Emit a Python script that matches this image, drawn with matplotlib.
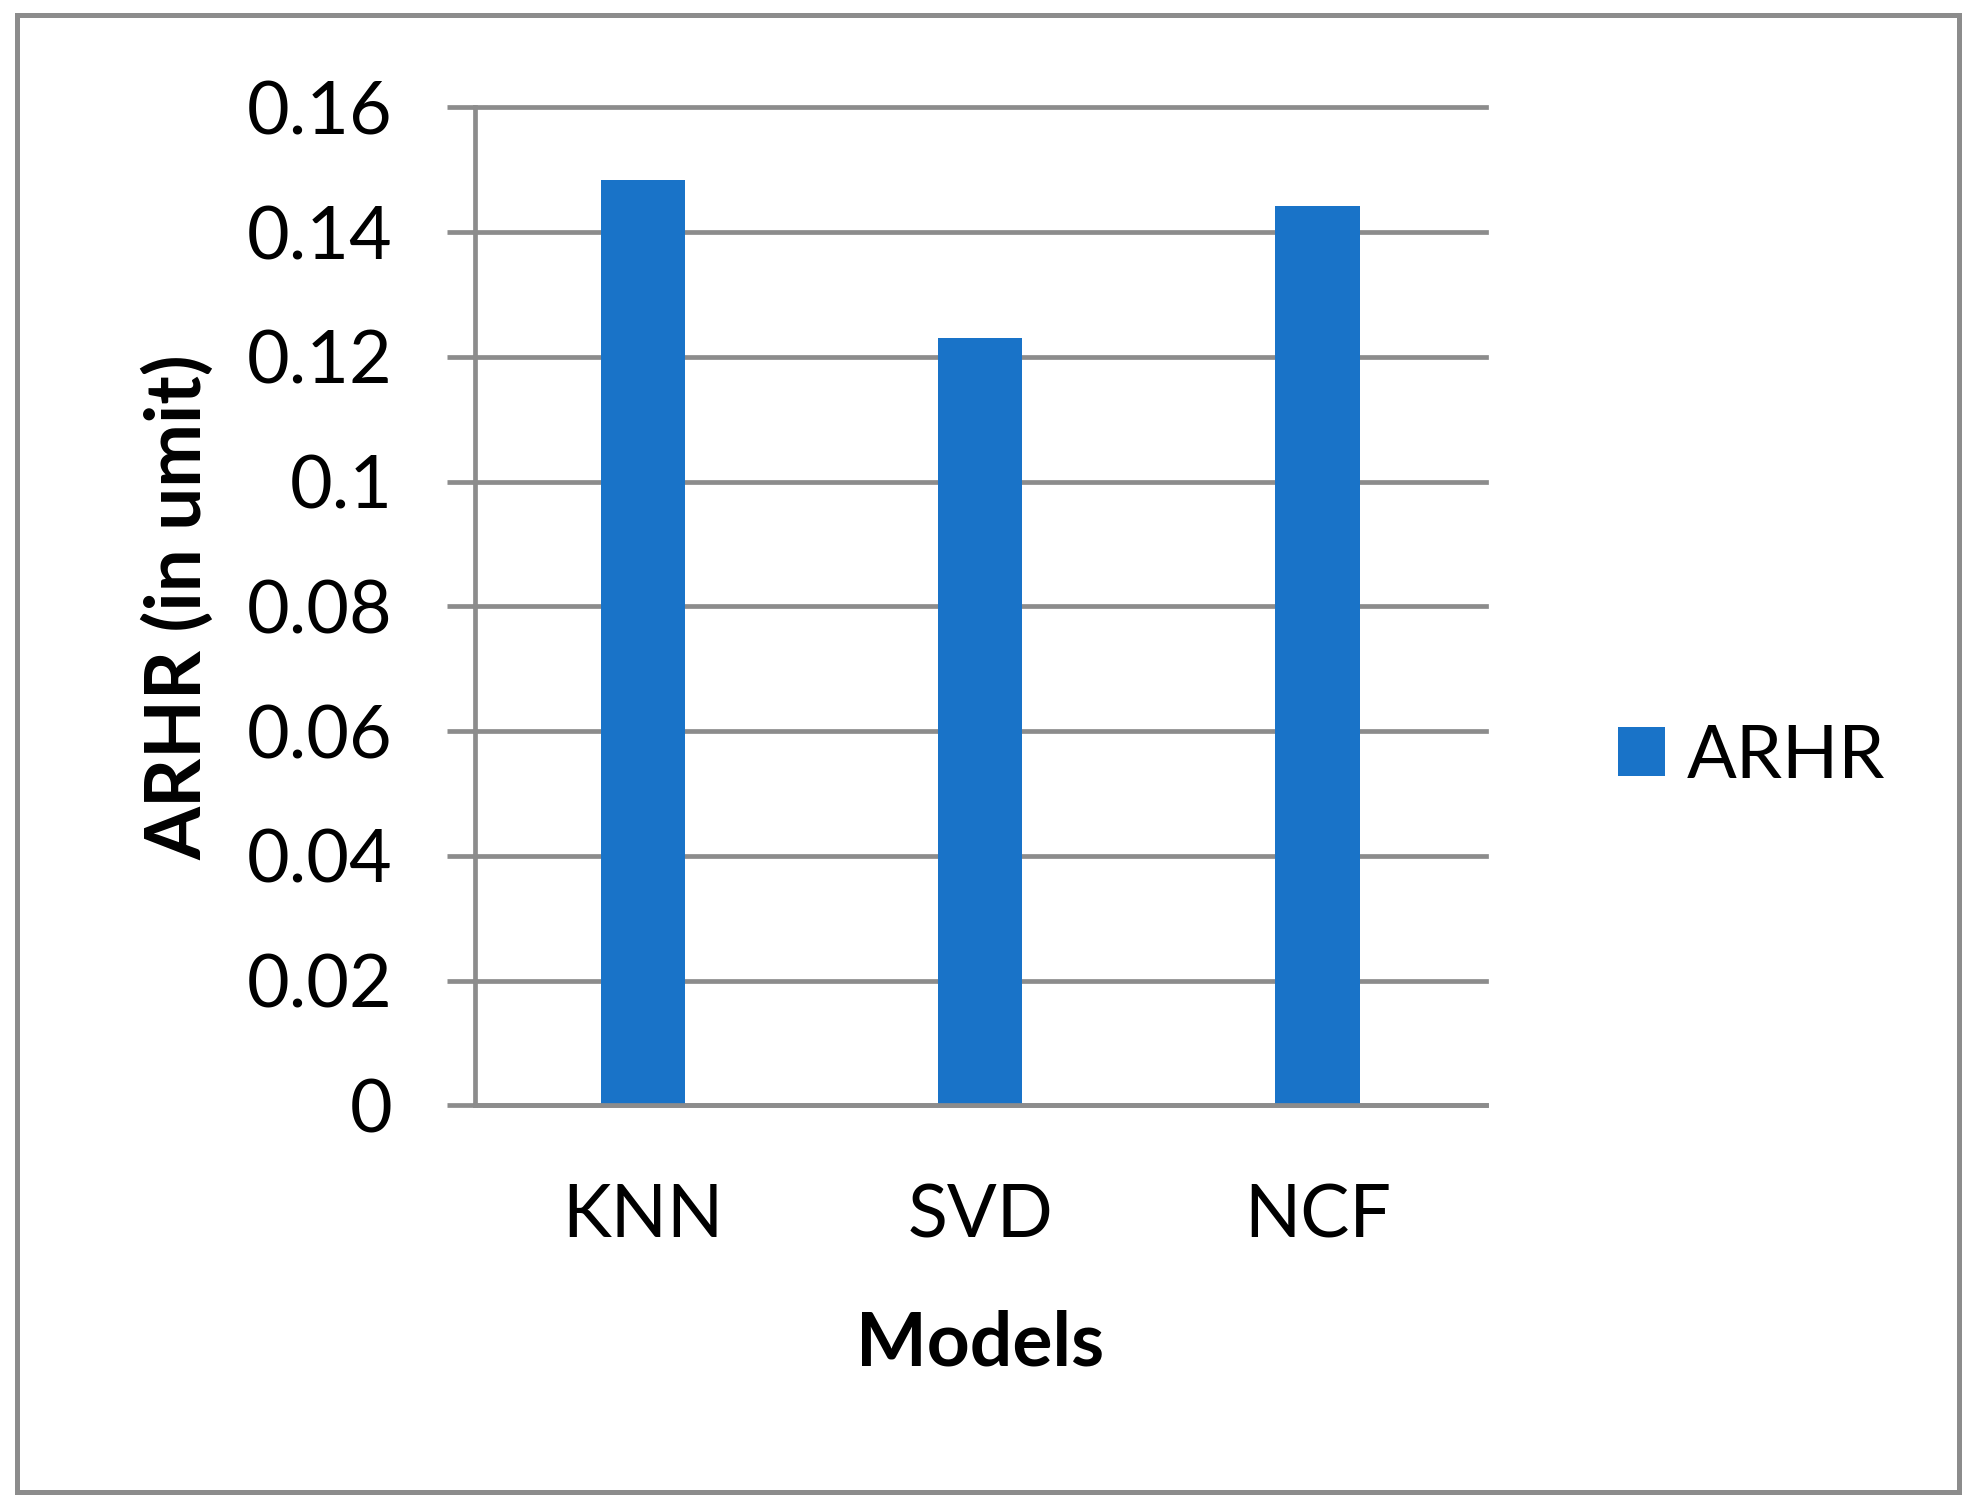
import matplotlib.pyplot as plt
from matplotlib.patches import Rectangle

# data
modeliai = ['KNN', 'SVD', 'NCF']
arhr = [0.1483, 0.1231, 0.1442]
y_ticks = [0, 0.02, 0.04, 0.06, 0.08, 0.10, 0.12, 0.14, 0.16]
y_labels = ['0', '0.02', '0.04', '0.06', '0.08', '0.1', '0.12', '0.14', '0.16']

MELYNA = '#1973C8'
PILKA = '#8C8C8C'

plt.rcParams['font.family'] = ['Lato', 'DejaVu Sans']


def braizyti():
    fig = plt.figure(figsize=(19.75, 15.09), dpi=100)
    ax = fig.add_axes([0.2403, 0.2674, 0.7524 - 0.2403, 0.9289 - 0.2674])

    x = range(len(modeliai))
    ax.bar(x, arhr, width=0.25, color=MELYNA, label='ARHR', zorder=3)

    ax.set_xlim(-0.5, len(modeliai) - 0.5)
    ax.set_ylim(0, 0.16)
    ax.set_yticks(y_ticks, y_labels)
    ax.set_xticks(list(x), modeliai)

    # grid and axes in Excel grey
    ax.set_axisbelow(True)
    ax.yaxis.grid(True, color=PILKA, linewidth=3.4)
    for gl in ax.get_ygridlines():
        gl.set_clip_on(False)
    for s in ['top', 'right']:
        ax.spines[s].set_visible(False)
    for s in ['left', 'bottom']:
        ax.spines[s].set_color(PILKA)
        ax.spines[s].set_linewidth(3.4)
        ax.spines[s].set_zorder(4)

    ax.tick_params(axis='y', direction='out', length=20, width=3.4, color=PILKA,
                   labelsize=53, pad=39)
    ax.tick_params(axis='x', length=0, labelsize=53, pad=95)
    plt.setp(ax.get_xticklabels(), va='baseline')

    # axis titles
    fig.text(0.4962, 1 - 1365 / 1509, 'Models', ha='center', va='baseline',
             fontsize=54, fontweight='bold')
    fig.text(178 / 1975, 1 - 607 / 1509, 'ARHR (in umit)', ha='center', va='center',
             rotation=90, fontsize=55, fontweight='bold')

    ax.legend(loc='center left', bbox_to_anchor=(1618 / 1975, 1 - 757 / 1509),
              bbox_transform=fig.transFigure, frameon=False, fontsize=53,
              handlelength=0.64, handleheight=0.64, handletextpad=0.3,
              borderpad=0, borderaxespad=0)

    # outer chart border
    fig.patches.append(Rectangle((0.00886, 0.01127), 0.9919 - 0.00886, 0.98973 - 0.01127,
                                 transform=fig.transFigure, fill=False,
                                 edgecolor=PILKA, linewidth=3.6))

    fig.savefig('out.png', dpi=100)


if __name__ == "__main__":
    braizyti()
